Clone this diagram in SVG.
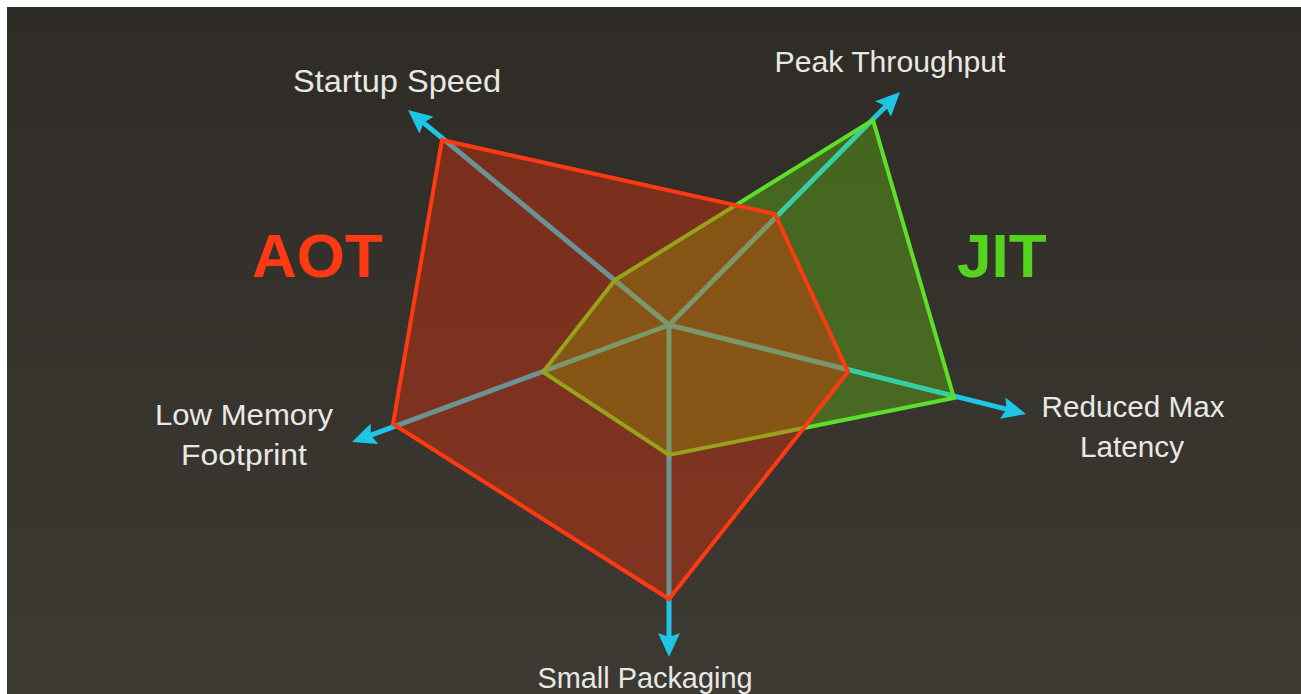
<svg xmlns="http://www.w3.org/2000/svg" width="1301" height="694" viewBox="0 0 1301 694">
<defs>
<linearGradient id="bg" x1="0" y1="0" x2="0" y2="1">
<stop offset="0" stop-color="#2f2c27"/>
<stop offset="1" stop-color="#3d3a34"/>
</linearGradient>
<marker id="arr" viewBox="0 0 24 22" markerWidth="24" markerHeight="22" refX="6" refY="11" orient="auto" markerUnits="userSpaceOnUse">
<path d="M0,0 L24,11 L0,22 L4,11 Z" fill="#1ec6e6"/>
</marker>
<style>
.axis{stroke:#1ec6e6;stroke-width:5;fill:none;marker-end:url(#arr)}
.lbl{font-family:"Liberation Sans",Arial,sans-serif;fill:#e8e8e4;font-size:29px;text-anchor:middle}
.big{font-family:"Liberation Sans",Arial,sans-serif;font-weight:bold;font-size:62px}
</style>
</defs>
<rect x="0" y="0" width="1301" height="694" fill="#ffffff"/>
<rect x="7" y="7" width="1294" height="687" fill="url(#bg)"/>
<g id="connectors">
<line class="axis" x1="669" y1="325" x2="421.9" y2="121.4"/>
<line class="axis" x1="669" y1="325" x2="887.3" y2="104.8"/>
<line class="axis" x1="669" y1="325" x2="1008.5" y2="409.6"/>
<line class="axis" x1="669" y1="325" x2="669" y2="639"/>
<line class="axis" x1="669" y1="325" x2="368.9" y2="435.8"/>
</g>
<g id="jit-area">
<polygon points="615,280 873,120 954,398 669,455 543,372" fill="#6ee10a" fill-opacity="0.31" stroke="#5ee02a" stroke-width="4" stroke-linejoin="miter"/>
</g>
<g id="aot-area">
<polygon points="442,140 775,214 848,372 669,599 393,424" fill="#ff3000" fill-opacity="0.35" stroke="#ff3a12" stroke-width="4" stroke-linejoin="miter"/>
</g>
<g id="label-startup"><text class="lbl" x="397" y="92" style="font-size:32px" textLength="208" lengthAdjust="spacingAndGlyphs">Startup Speed</text></g>
<g id="label-peak"><text class="lbl" x="890" y="72" textLength="231" lengthAdjust="spacingAndGlyphs">Peak Throughput</text></g>
<g id="label-latency"><text class="lbl" x="1133" y="417" textLength="183" lengthAdjust="spacingAndGlyphs">Reduced Max</text><text class="lbl" x="1132" y="457" textLength="104" lengthAdjust="spacingAndGlyphs">Latency</text></g>
<g id="label-memory"><text class="lbl" x="244" y="425" textLength="178" lengthAdjust="spacingAndGlyphs">Low Memory</text><text class="lbl" x="244" y="465" textLength="126" lengthAdjust="spacingAndGlyphs">Footprint</text></g>
<g id="label-packaging"><text class="lbl" x="645" y="688" textLength="215" lengthAdjust="spacingAndGlyphs">Small Packaging</text></g>
<g id="label-aot"><text class="big" x="252" y="277" fill="#ff3a12">AOT</text></g>
<g id="label-jit"><text class="big" x="957" y="277" fill="#55d41e">JIT</text></g>
</svg>
